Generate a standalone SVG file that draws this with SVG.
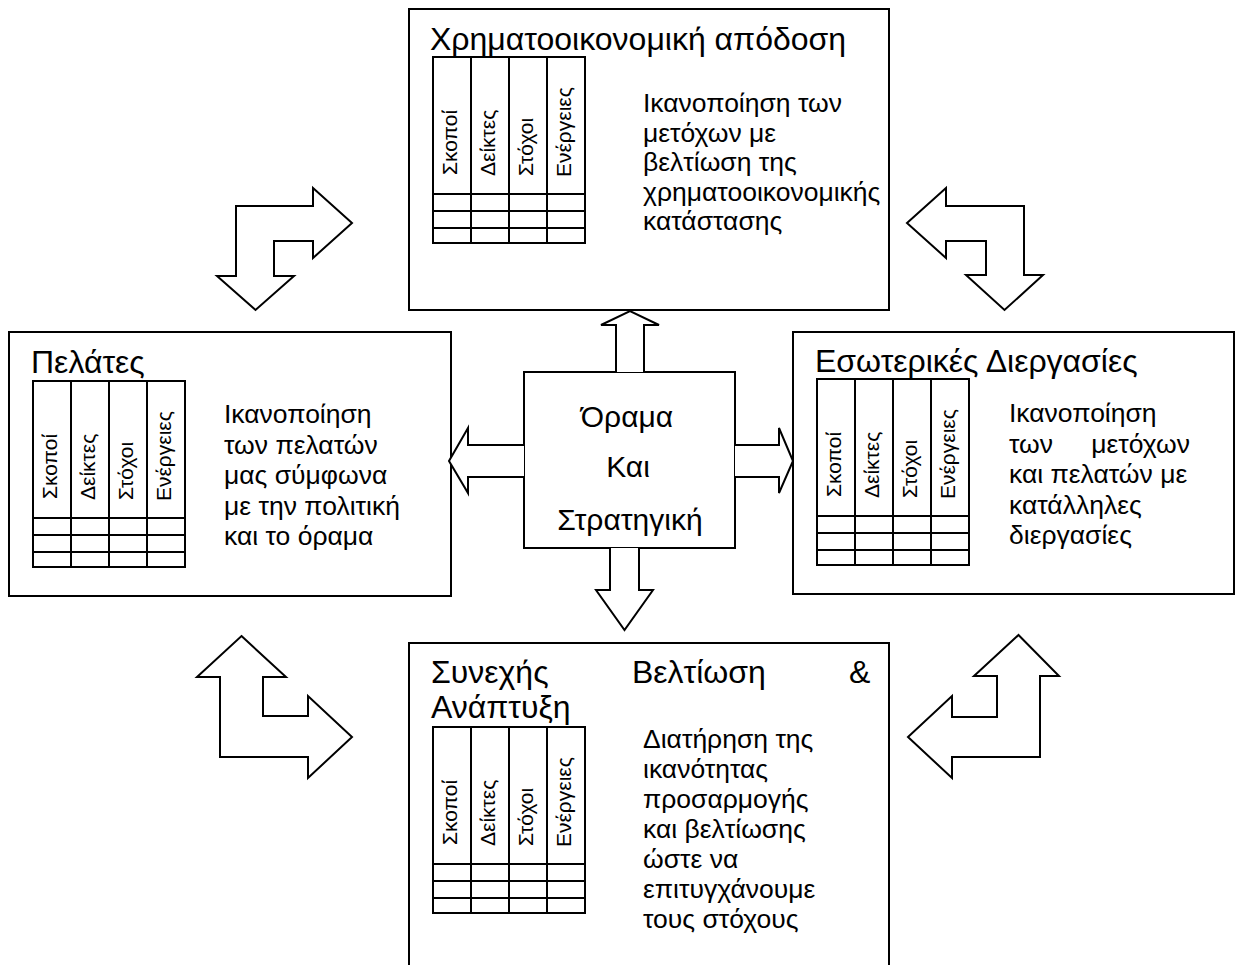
<svg xmlns="http://www.w3.org/2000/svg" width="1236" height="965" viewBox="0 0 1236 965">
<style>
.box{fill:#fff;stroke:#000;stroke-width:2}
.tbl{fill:none;stroke:#000;stroke-width:2}
.arr{fill:#fff;stroke:#000;stroke-width:2;stroke-linejoin:miter}
text{font-family:"Liberation Sans",Arial,sans-serif;fill:#000}
.ttl{font-size:32px}
.par{font-size:26.5px}
.ctr{font-size:30px}
.hdr{font-size:21px}
</style>
<defs>
<g id="table">
<rect class="tbl" x="0" y="0" width="152" height="186"/>
<path class="tbl" d="M38,0V186M76,0V186M114,0V186M0,137H152M0,154H152M0,171H152"/>
<text class="hdr" transform="translate(23.5,118) rotate(-90)">Σκοποί</text>
<text class="hdr" transform="translate(61.5,119) rotate(-90)">Δείκτες</text>
<text class="hdr" transform="translate(99.5,119) rotate(-90)">Στόχοι</text>
<text class="hdr" transform="translate(137.5,120) rotate(-90)">Ενέργειες</text>
</g>
</defs>
<rect width="1236" height="965" fill="#fff"/>
<g id="node-financial">
<rect class="box" x="409" y="9" width="480" height="301"/>
<text class="ttl" x="430" y="50">Χρηματοοικονομική απόδοση</text>
<use href="#table" x="433" y="57"/>
<text class="par" x="643"><tspan x="643" y="112">Ικανοποίηση των</tspan><tspan x="643" y="141.5">μετόχων με</tspan><tspan x="643" y="171">βελτίωση της</tspan><tspan x="643" y="200.5">χρηματοοικονομικής</tspan><tspan x="643" y="230">κατάστασης</tspan></text>
</g>
<g id="node-customers">
<rect class="box" x="9" y="332" width="442" height="264"/>
<text class="ttl" x="31" y="373">Πελάτες</text>
<use href="#table" x="33" y="381"/>
<text class="par"><tspan x="224" y="423">Ικανοποίηση</tspan><tspan x="224" y="453.5">των πελατών</tspan><tspan x="224" y="484">μας σύμφωνα</tspan><tspan x="224" y="514.5">με την πολιτική</tspan><tspan x="224" y="545">και το όραμα</tspan></text>
</g>
<g id="node-internal">
<rect class="box" x="793" y="332" width="441" height="262"/>
<text class="ttl" x="815" y="372">Εσωτερικές Διεργασίες</text>
<use href="#table" x="817" y="379"/>
<text class="par"><tspan x="1009" y="422">Ικανοποίηση</tspan><tspan x="1009" y="452.5">των</tspan><tspan x="1190" y="452.5" text-anchor="end">μετόχων</tspan><tspan x="1009" y="483">και πελατών με</tspan><tspan x="1009" y="513.5">κατάλληλες</tspan><tspan x="1009" y="544">διεργασίες</tspan></text>
</g>
<g id="node-learning">
<rect class="box" x="409" y="643" width="480" height="330"/>
<text class="ttl"><tspan x="431" y="683">Συνεχής</tspan><tspan x="632" y="683">Βελτίωση</tspan><tspan x="849" y="683">&amp;</tspan><tspan x="431" y="718">Ανάπτυξη</tspan></text>
<use href="#table" x="433" y="727"/>
<text class="par"><tspan x="643" y="748">Διατήρηση της</tspan><tspan x="643" y="778">ικανότητας</tspan><tspan x="643" y="808">προσαρμογής</tspan><tspan x="643" y="838">και βελτίωσης</tspan><tspan x="643" y="868">ώστε να</tspan><tspan x="643" y="898">επιτυγχάνουμε</tspan><tspan x="643" y="928">τους στόχους</tspan></text>
</g>
<g id="node-vision">
<rect class="box" x="524" y="372" width="211" height="176"/>
<text class="ctr" text-anchor="middle"><tspan x="627" y="427">Όραμα</tspan><tspan x="628" y="477">Και</tspan><tspan x="630" y="530">Στρατηγική</tspan></text>
</g>
<g id="connectors">
<path class="arr" d="M616,372V325H601L630,311L659,325H644V372"/>
<path class="arr" d="M524,445H468V428L449,461L468,493V477H524"/>
<path class="arr" d="M735,445H779V428L793,461L779,493V477H735"/>
<path class="arr" d="M610,548V590H596L624.5,630L653,590H639V548"/>
<polygon class="arr" points="236,206 313,206 313,188 352,223 313,258 313,241 274,241 274,276 294,276 255.5,310 217,276 236,276"/>
<polygon class="arr" points="907,223 946,188 946,206 1024,206 1024,275 1043,275 1004.5,310 966,275 986,275 986,241 946,241 946,258"/>
<polygon class="arr" points="241.5,636 286,677 263,677 263,716 308,716 308,696 352,737 308,778 308,757 220,757 220,677 197,677"/>
<polygon class="arr" points="1018.5,635 1059,676 1040,676 1040,757 952,757 952,778 908,737 952,696 952,717 997,717 997,676 974,676"/>
</g>
</svg>
